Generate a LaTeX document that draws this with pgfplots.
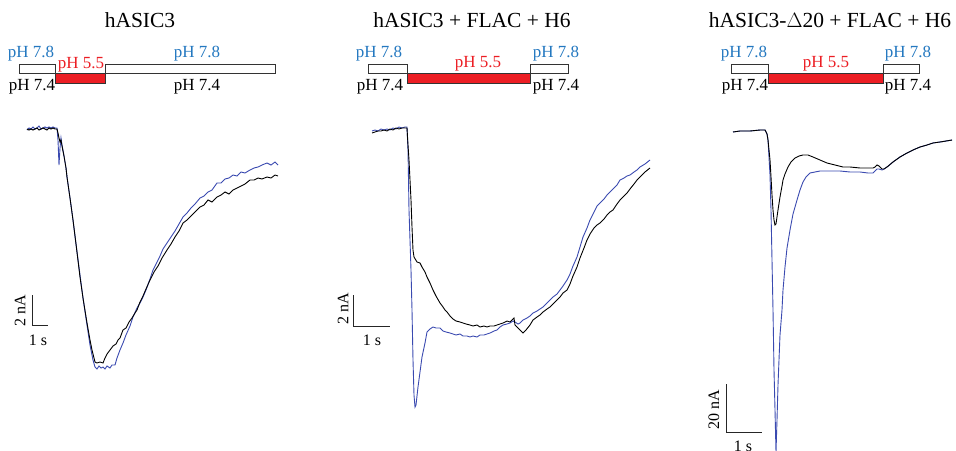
\documentclass[border=0pt]{standalone}
\usepackage{pgfplots}
\pgfplotsset{compat=1.18}
\usepackage{fontspec}
\setmainfont{Liberation Serif}
\definecolor{trblue}{RGB}{58,74,176}
\definecolor{phblue}{RGB}{36,120,192}
\definecolor{phred}{RGB}{236,30,36}

\begin{document}
\begin{tikzpicture}
\begin{axis}[
    name=ax,
    scale only axis,
    width=956pt, height=450pt,
    xmin=0, xmax=956, ymin=0, ymax=450,
    y dir=reverse,
    axis lines=none,
    clip=true,
]
% ---- titles
\node[font=\fontsize{21.5}{25}\selectfont, anchor=base] at (axis cs:140,27) {hASIC3};
\node[font=\fontsize{21.5}{25}\selectfont, anchor=base] at (axis cs:472,27) {hASIC3 + FLAC + H6};
\node[font=\fontsize{21.5}{25}\selectfont, anchor=base] at (axis cs:830,27) {hASIC3-$\Delta$20 + FLAC + H6};

% ---- protocol bars, panel 1
\addplot[draw=black!80, line width=0.8pt, fill=white] coordinates {(19,64)(55,64)(55,73)(19,73)(19,64)};
\addplot[draw=black!80, line width=0.8pt, fill=phred] coordinates {(55,73)(105,73)(105,83)(55,83)(55,73)};
\addplot[draw=black!80, line width=0.8pt, fill=white] coordinates {(105,64)(275,64)(275,73)(105,73)(105,64)};
% panel 2
\addplot[draw=black!80, line width=0.8pt, fill=white] coordinates {(368,64)(407,64)(407,73)(368,73)(368,64)};
\addplot[draw=black!80, line width=0.8pt, fill=phred] coordinates {(407,73)(530,73)(530,83)(407,83)(407,73)};
\addplot[draw=black!80, line width=0.8pt, fill=white] coordinates {(530,64)(568,64)(568,73)(530,73)(530,64)};
% panel 3
\addplot[draw=black!80, line width=0.8pt, fill=white] coordinates {(731,64)(768,64)(768,73)(731,73)(731,64)};
\addplot[draw=black!80, line width=0.8pt, fill=phred] coordinates {(768,73)(883,73)(883,83)(768,83)(768,73)};
\addplot[draw=black!80, line width=0.8pt, fill=white] coordinates {(883,64)(919,64)(919,73)(883,73)(883,64)};

% ---- pH labels
\begin{scope}[every node/.style={font=\fontsize{17}{20}\selectfont, anchor=base, inner sep=0pt}]
\node[text=phblue] at (axis cs:31,57) {pH 7.8};
\node[text=phred]  at (axis cs:81,68) {pH 5.5};
\node[text=phblue] at (axis cs:197,57) {pH 7.8};
\node at (axis cs:32,90) {pH 7.4};
\node at (axis cs:197,90) {pH 7.4};

\node[text=phblue] at (axis cs:379,57) {pH 7.8};
\node[text=phred]  at (axis cs:478,67) {pH 5.5};
\node[text=phblue] at (axis cs:556,57) {pH 7.8};
\node at (axis cs:380,90) {pH 7.4};
\node at (axis cs:556,90) {pH 7.4};

\node[text=phblue] at (axis cs:744,57) {pH 7.8};
\node[text=phred]  at (axis cs:826,67) {pH 5.5};
\node[text=phblue] at (axis cs:908,57) {pH 7.8};
\node at (axis cs:745,90) {pH 7.4};
\node at (axis cs:908,90) {pH 7.4};
\end{scope}

% scale bar labels
\begin{scope}[every node/.style={font=\fontsize{16}{19}\selectfont, anchor=base, inner sep=0pt}]
\node at (axis cs:38,345) {1 s};
\node at (axis cs:372,345) {1 s};
\node at (axis cs:743,451) {1 s};
\node[rotate=90, anchor=center] at (axis cs:20,311) {2 nA};
\node[rotate=90, anchor=center] at (axis cs:343,309) {2 nA};
\node[rotate=90, anchor=center] at (axis cs:714,410) {20 nA};
\end{scope}

% ---- scale bars
\addplot[black!85, line width=1pt] coordinates {(32,295)(32,325)(48,325)};
\addplot[black!85, line width=1pt] coordinates {(353,295)(353,326)(390,326)};
\addplot[black!85, line width=1pt] coordinates {(726,384)(726,432)(762,432)};

% ---- panel 1 traces
\addplot[trblue, line width=0.9pt] coordinates {
(27,130)(29,128)(31,129)(33,127)(35,129)(37,128)(39,126)(41,129)(43,128)(45,127)(47,128)(49,127)(51,128)(53,127)(55,128)(57,128)(58,140)(59,165)(60,148)(61,138)(62,145)(64,156)(66,168)(67,177)(70,198)(73,220)(76,244)(80,275)(83,298)(87,325)(90,345)(93,360)(95,367)(97,369)(99,366)(101,368)(103,367)(105,369)(107,366)(110,368)(112,365)(115,365)(117,358)(120,350)(123,343)(126,335)(130,326)(133,317)(137,308)(140,303)(143,297)(146,290)(150,279)(153,270)(157,262)(160,256)(163,249)(167,243)(171,237)(175,231)(179,224)(183,217)(187,213)(191,208)(195,204)(200,198)(204,196)(208,192)(212,190)(217,183)(221,183)(225,179)(229,178)(233,175)(237,176)(241,172)(245,173)(250,170)(254,168)(258,167)(262,165)(267,163)(271,165)(275,162)(278,165)
};
\addplot[black, line width=0.9pt] coordinates {
(27,129)(29,130)(31,129)(33,130)(35,129)(37,128)(39,130)(41,129)(43,128)(45,129)(47,130)(49,128)(51,129)(53,128)(55,129)(57,129)(58,133)(59,138)(60,142)(61,140)(62,146)(64,156)(66,168)(67,177)(70,198)(73,220)(76,244)(80,277)(83,298)(87,323)(90,340)(92,350)(94,358)(95,362)(97,363)(100,362)(103,363)(105,358)(107,354)(110,350)(113,346)(116,344)(118,340)(120,338)(123,330)(126,328)(129,322)(132,318)(135,313)(137,310)(140,302)(143,296)(146,289)(150,280)(154,272)(158,266)(162,258)(167,250)(171,244)(175,237)(179,231)(183,223)(187,220)(191,216)(195,212)(200,207)(204,205)(208,200)(212,202)(217,197)(221,195)(225,192)(229,194)(233,190)(237,188)(241,186)(245,184)(250,180)(254,180)(258,178)(262,179)(267,177)(271,178)(275,175)(278,176)
};

% ---- panel 2 traces
\addplot[trblue, line width=0.9pt] coordinates {
(372,131)(375,130)(378,131)(381,129)(384,130)(387,129)(390,130)(393,128)(396,129)(399,127)(402,128)(405,127)(407,127)(408,150)(409,210)(411,270)(412,310)(413,360)(414,395)(415,407)(416,405)(418,387)(420,372)(422,357)(425,343)(427,332)(430,329)(433,327)(436,328)(440,328)(443,331)(446,332)(450,333)(453,334)(456,335)(460,334)(463,336)(467,336)(470,337)(473,336)(477,337)(480,335)(484,335)(487,334)(490,333)(494,331)(497,330)(500,327)(503,325)(507,324)(510,323)(513,321)(515,322)(518,324)(520,323)(523,320)(527,318)(530,316)(533,313)(537,311)(540,309)(543,307)(547,303)(550,300)(553,297)(557,294)(560,290)(563,286)(567,280)(570,274)(573,266)(577,257)(580,247)(583,237)(587,228)(590,220)(594,212)(597,206)(600,203)(604,199)(607,195)(610,192)(614,188)(617,185)(620,180)(624,178)(627,176)(630,175)(634,172)(637,170)(640,167)(645,164)(650,160)
};
\addplot[black, line width=0.9pt] coordinates {
(372,133)(375,132)(378,131)(381,131)(384,130)(387,131)(390,129)(393,130)(396,128)(399,129)(402,128)(405,128)(407,128)(408,145)(409,160)(411,200)(412,227)(413,250)(414,257)(417,262)(420,263)(422,267)(425,272)(427,277)(430,283)(433,290)(436,296)(440,303)(443,307)(445,310)(447,312)(450,316)(453,319)(456,321)(460,322)(463,323)(466,324)(470,325)(473,326)(477,325)(480,327)(484,326)(487,327)(490,326)(494,326)(497,325)(500,324)(503,323)(507,321)(510,322)(514,318)(515,325)(518,328)(520,330)(523,333)(526,330)(530,325)(533,320)(537,317)(540,315)(543,312)(547,309)(550,307)(553,304)(557,300)(560,297)(563,293)(567,290)(570,284)(573,276)(577,267)(580,258)(584,248)(587,240)(590,234)(594,228)(597,225)(600,223)(604,219)(607,215)(610,212)(613,210)(617,204)(620,200)(624,196)(627,193)(630,189)(634,184)(637,180)(640,177)(645,172)(650,168)
};

% ---- panel 3 traces
\addplot[trblue, line width=0.9pt] coordinates {
(733,132)(740,131)(750,131)(760,130)(765,130)(767,134)(768,140)(770,175)(771,210)(772,260)(773,310)(774,370)(775,410)(776,452)(777,420)(778,385)(779,360)(780,335)(782,310)(783,290)(785,267)(787,248)(790,230)(793,214)(797,200)(800,190)(803,182)(806,177)(810,173)(815,172)(820,171)(830,171)(840,171)(850,172)(860,172)(868,173)(873,173)(875,171)(877,169)(879,169)(882,170)(884,169)(887,167)(893,162)(900,157)(907,153)(913,150)(920,147)(927,145)(933,143)(940,142)(946,141)(952,140)
};
\addplot[black, line width=0.9pt] coordinates {
(733,132)(740,131)(750,131)(760,130)(765,130)(767,134)(768,140)(770,160)(771,177)(772,195)(773,210)(774,220)(775,225)(776,224)(777,217)(778,210)(780,197)(782,186)(783,180)(785,174)(788,167)(791,162)(795,158)(799,156)(803,155)(808,155)(813,157)(820,160)(827,163)(835,165)(843,167)(850,167)(860,168)(868,168)(873,168)(875,167)(877,165)(879,166)(882,169)(884,169)(887,167)(893,162)(900,157)(907,153)(913,150)(920,147)(927,145)(933,143)(940,142)(946,141)(952,140)
};
\end{axis}
\pgfresetboundingbox
\path (ax.south west) rectangle (ax.north east);
\end{tikzpicture}
\end{document}
